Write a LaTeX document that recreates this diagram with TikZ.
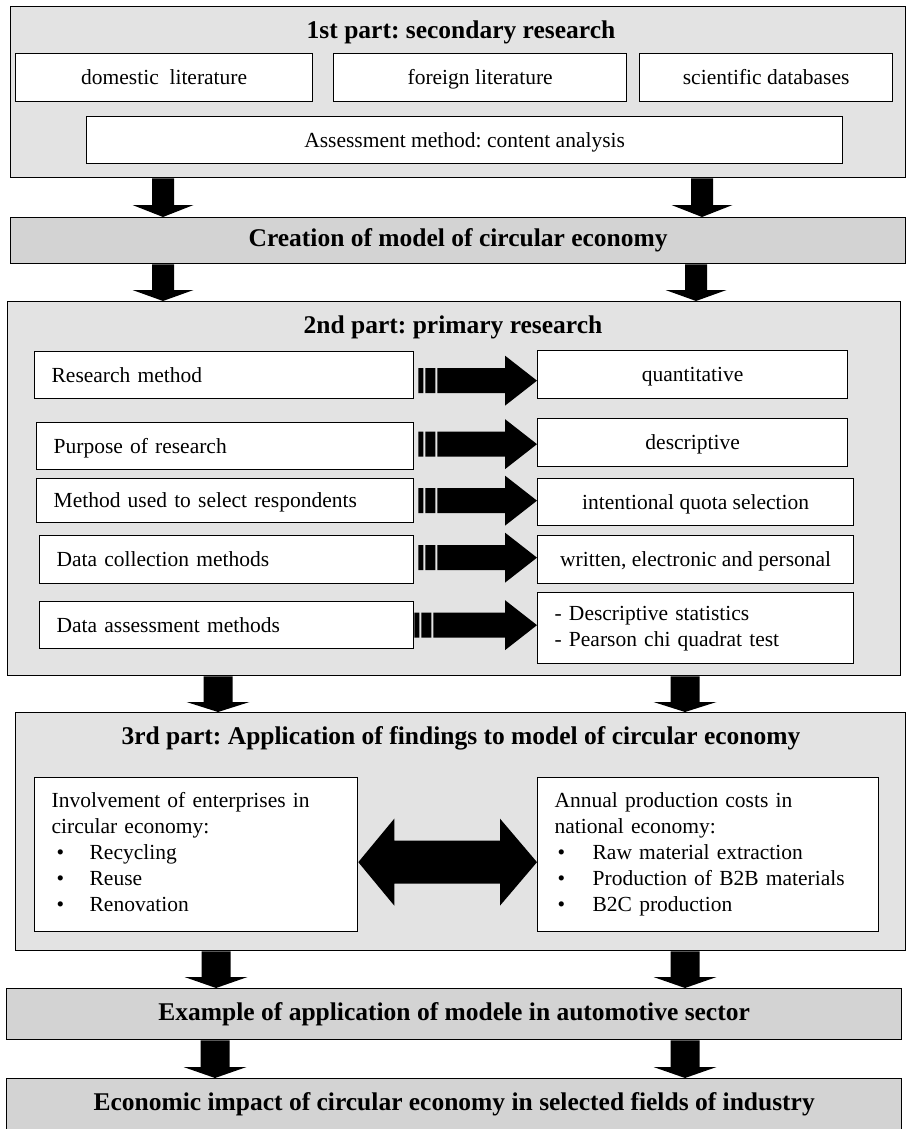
\documentclass[tikz,border=0pt]{standalone}
\usepackage{fontspec}
\setmainfont{Liberation Serif}
\usetikzlibrary{calc}
\frenchspacing
\definecolor{partgray}{HTML}{E3E3E3}
\definecolor{bandgray}{HTML}{D3D3D3}
\newcommand\bodyfont{\fontsize{21.5}{26}\selectfont}
\newcommand\titlefont{\fontsize{25.5}{30}\selectfont\bfseries}
\newcommand\onelinestrut{\rule[-6pt]{0pt}{26.5pt}}
\newcommand\bulitem[2]{\hspace*{#1pt}\makebox[\dimexpr38pt-#1pt\relax][l]{\textbullet}#2}
\tikzset{
  base/.style={draw=black, line width=1.3pt, anchor=north west, inner sep=0pt},
  partbox/.style={base, fill=partgray},
  bandbox/.style={base, fill=bandgray, font=\titlefont},
  plainbox/.style={base, fill=white, font=\bodyfont},
  whitebox/.style={plainbox, execute at begin node=\onelinestrut, execute at end node=\onelinestrut},
  leftbox/.style={whitebox, align=left, inner xsep=17pt, text width=#1},
  multibox/.style={plainbox, align=left, inner xsep=17pt, text width=#1, execute at begin node=\strut, execute at end node=\strut},
  titletext/.style={font=\titlefont, inner sep=0pt},
  arrowfill/.style={fill=black},
}
% thick downward arrow from the south side of one node to the north side of another
\newcommand\FatDownArrow[6]{%
  \fill[arrowfill] let \p1=(#2.south), \p2=(#3.north) in
    (#1pt-#4pt,\y1) -- (#1pt+#4pt,\y1) -- (#1pt+#4pt,\y2+#6pt) -- (#1pt+#5pt,\y2+#6pt)
    -- (#1pt,\y2) -- (#1pt-#5pt,\y2+#6pt) -- (#1pt-#4pt,\y2+#6pt) -- cycle;}
% striped right arrow from the east side of one node to the west side of another
\newcommand\StripeArrow[4]{%
  \fill[arrowfill] let \p1=(#1.east), \p2=(#2.west) in
    (\x1+#3pt,\y1+#4pt-12.5pt) rectangle (\x1+#3pt+5pt,\y1+#4pt+12.5pt)
    (\x1+#3pt+7pt,\y1+#4pt-12.5pt) rectangle (\x1+#3pt+17pt,\y1+#4pt+12.5pt)
    (\x1+#3pt+19pt,\y1+#4pt-12.5pt) -- (\x2-32pt,\y1+#4pt-12.5pt) -- (\x2-32pt,\y1+#4pt-25pt)
    -- (\x2,\y1+#4pt) -- (\x2-32pt,\y1+#4pt+25pt) -- (\x2-32pt,\y1+#4pt+12.5pt)
    -- (\x1+#3pt+19pt,\y1+#4pt+12.5pt) -- cycle;}
\begin{document}
\begin{tikzpicture}[x=1pt,y=1pt]
\useasboundingbox (0,0) rectangle (910,-1129);

% ---------- part 1
\node[partbox, minimum width=895pt, minimum height=171pt] (p1) at (10,-6) {};
\node[titletext] (p1t) at (461,-32) {1st part: secondary research};
\node[whitebox, minimum width=297pt, minimum height=48pt] (dom) at (15,-53) {domestic\ \ literature};
\node[whitebox, minimum width=293pt, minimum height=48pt] (for) at (333,-53) {foreign literature};
\node[whitebox, minimum width=253pt, minimum height=48pt] (sci) at (639,-53) {scientific databases};
\node[whitebox, minimum width=756pt, minimum height=47pt] (ass) at (86,-116) {Assessment method: content analysis};

% ---------- creation
\node[bandbox, minimum width=895pt, minimum height=46pt] (cre) at (10,-217) {Creation of model of circular economy};

% ---------- part 2
\node[partbox, minimum width=893pt, minimum height=374pt] (p2) at (7,-301) {};
\node[titletext] (p2t) at (453,-327) {2nd part: primary research};
\node[leftbox=345pt, minimum width=379pt, minimum height=47pt] (r1L) at (34,-351) {Research method};
\node[whitebox, minimum width=310pt, minimum height=48pt] (r1R) at (537,-350) {quantitative};
\node[leftbox=343pt, minimum width=377pt, minimum height=47pt] (r2L) at (36,-422) {Purpose of research};
\node[whitebox, minimum width=310pt, minimum height=48pt] (r2R) at (537,-418) {descriptive};
\node[leftbox=343pt, minimum width=377pt, minimum height=44pt] (r3L) at (36,-478) {Method used to select respondents};
\node[whitebox, minimum width=316pt, minimum height=47pt] (r3R) at (537,-478) {intentional quota selection};
\node[leftbox=340pt, minimum width=374pt, minimum height=48pt] (r4L) at (39,-535) {Data collection methods};
\node[whitebox, minimum width=316pt, minimum height=48pt] (r4R) at (537,-535) {written, electronic and personal};
\node[leftbox=340pt, minimum width=374pt, minimum height=47pt] (r5L) at (39,-601) {Data assessment methods};
\node[multibox=282pt, minimum width=316pt, minimum height=71pt] (r5R) at (537,-592) {- Descriptive statistics\\- Pearson chi quadrat test};

\StripeArrow{r1L}{r1R}{4}{-5.5}
\StripeArrow{r2L}{r2R}{4}{2}
\StripeArrow{r3L}{r3R}{4}{0}
\StripeArrow{r4L}{r4R}{4}{2}
\StripeArrow{r5L}{r5R}{0}{0}

% ---------- part 3
\node[partbox, minimum width=890pt, minimum height=238pt] (p3) at (15,-712) {};
\node[titletext] (p3t) at (461,-738) {3rd part: Application of findings to model of circular economy};
\node[multibox=289pt, minimum width=323pt, minimum height=154pt] (l3) at (34,-777)
  {Involvement of enterprises in\\circular economy:\\\bulitem{5}{Recycling}\\\bulitem{5}{Reuse}\\\bulitem{5}{Renovation}};
\node[multibox=307pt, minimum width=341pt, minimum height=154pt] (r3) at (537,-777)
  {Annual production costs in\\national economy:\\\bulitem{3}{Raw material extraction}\\\bulitem{3}{Production of B2B materials}\\\bulitem{3}{B2C production}};
\fill[arrowfill] let \p1=(l3.east), \p2=(r3.west) in
  (\x1,\y1-7.5pt) -- (\x1+36pt,\y1-7.5pt+43.5pt) -- (\x1+36pt,\y1-7.5pt+21.5pt)
  -- (\x2-37pt,\y1-7.5pt+21.5pt) -- (\x2-37pt,\y1-7.5pt+43.5pt) -- (\x2,\y1-7.5pt)
  -- (\x2-37pt,\y1-7.5pt-43.5pt) -- (\x2-37pt,\y1-7.5pt-21.5pt)
  -- (\x1+36pt,\y1-7.5pt-21.5pt) -- (\x1+36pt,\y1-7.5pt-43.5pt) -- cycle;

% ---------- bottom bands
\node[bandbox, minimum width=895pt, minimum height=51pt] (ex) at (6,-988) {Example of application of modele in automotive sector};
\node[bandbox, minimum width=895pt, minimum height=51pt] (eco) at (6,-1078) {Economic impact of circular economy in selected fields of industry};

% ---------- vertical arrows
\FatDownArrow{163}{p1}{cre}{11}{30.5}{12}
\FatDownArrow{702}{p1}{cre}{11}{30.5}{12}
\FatDownArrow{163}{cre}{p2}{11}{30.5}{11}
\FatDownArrow{696}{cre}{p2}{11}{30.5}{11}
\FatDownArrow{218}{p2}{p3}{14.5}{31.5}{10}
\FatDownArrow{685}{p2}{p3}{14.5}{31.5}{10}
\FatDownArrow{216}{p3}{ex}{14.5}{31.5}{11}
\FatDownArrow{685}{p3}{ex}{14.5}{31.5}{11}
\FatDownArrow{215}{ex}{eco}{14.5}{31.5}{11}
\FatDownArrow{685}{ex}{eco}{14.5}{31.5}{11}
\end{tikzpicture}
\end{document}
